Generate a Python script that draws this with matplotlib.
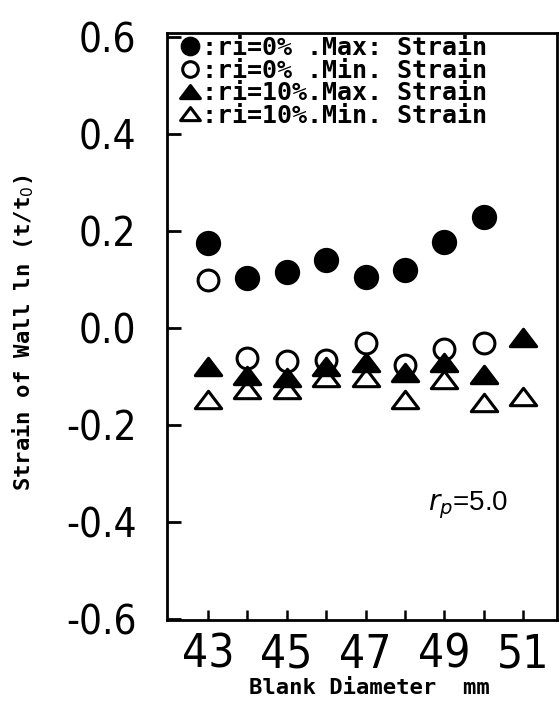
import matplotlib.pyplot as plt
from matplotlib.ticker import FixedLocator
from matplotlib.path import Path
from matplotlib import font_manager

# blank diameter (mm)
diam = [43, 44, 45, 46, 47, 48, 49, 50, 51]
diam_r0 = [43, 44, 45, 46, 47, 48, 49, 50]

# wall strain ln(t/t0)
r0_max = [0.175, 0.104, 0.116, 0.140, 0.106, 0.120, 0.177, 0.229]
r0_min = [0.099, -0.062, -0.069, -0.066, -0.031, -0.076, -0.044, -0.031]
r10_max = [-0.080, -0.100, -0.103, -0.080, -0.073, -0.093, -0.073, -0.097, -0.021]
r10_min = [-0.148, -0.128, -0.128, -0.103, -0.103, -0.148, -0.107, -0.155, -0.142]

labels = [":ri=0% .Max: Strain",
          ":ri=0% .Min. Strain",
          ":ri=10%.Max. Strain",
          ":ri=10%.Min. Strain"]

yticks = [-0.6, -0.4, -0.2, 0.0, 0.2, 0.4, 0.6]
ytick_labels = ["-0.6", "-0.4", "-0.2", "0.0", "0.2", "0.4", "0.6"]
xticks_major = [43, 45, 47, 49, 51]
xticks_minor = [44, 46, 48, 50]

# is there any condensed face around?
cond = [f for f in font_manager.fontManager.ttflist
        if f.stretch in ("condensed", "semi-condensed", "extra-condensed")
        or "Narrow" in f.name or "Condensed" in f.name]
if cond:
    narrow_kw = dict(family=[cond[0].name, "DejaVu Sans"], fontstretch=cond[0].stretch)
    ysize, xsize = 29, 33
else:
    narrow_kw = dict(family=["DejaVu Sans"])
    ysize, xsize = 23, 27

mono = ["DejaVu Sans Mono", "DejaVu Sans"]

# flat triangle like in the scan
tri = Path([(-1, -0.62), (1, -0.62), (0, 0.7), (-1, -0.62)], closed=True)

fig = plt.figure(figsize=(5.59, 7.02), dpi=100)
ax = fig.add_axes([0.2987, 0.1168, 0.6977, 0.8362])

ew = 2.2
h1, = ax.plot(diam_r0, r0_max, ls="none", marker="o", ms=16, mfc="black", mec="black", mew=ew)
h2, = ax.plot(diam_r0, r0_min, ls="none", marker="o", ms=15, mfc="white", mec="black", mew=ew)
h3, = ax.plot(diam, r10_max, ls="none", marker=tri, ms=19, mfc="black", mec="black", mew=ew)
h4, = ax.plot(diam, r10_min, ls="none", marker=tri, ms=19, mfc="white", mec="black", mew=ew)
# draw open markers under filled ones
h4.set_zorder(1.9)
h2.set_zorder(1.8)

ax.set_xlim(41.96, 51.86)
ax.set_ylim(-0.602, 0.608)

for s in ax.spines.values():
    s.set_linewidth(2.0)

ax.xaxis.set_major_locator(FixedLocator(xticks_major))
ax.xaxis.set_minor_locator(FixedLocator(xticks_minor))
ax.set_xticklabels([str(v) for v in xticks_major], fontsize=xsize, **narrow_kw)
ax.tick_params(axis="x", which="both", direction="in", length=7, width=1.8, pad=9)

ax.set_yticks(yticks)
ax.set_yticklabels(ytick_labels, fontsize=ysize, **narrow_kw)
ax.tick_params(axis="y", direction="in", length=10, width=2.0, pad=22)

ax.set_xlabel("Blank Diameter  mm", family=mono, fontweight="bold", fontsize=16)
ax.xaxis.set_label_coords(0.52, -0.098)
ax.set_ylabel(r"Strain of Wall ln (t/t$_0$)", family=mono, fontweight="bold", fontsize=16)
ax.yaxis.set_label_coords(-0.336, 0.49)

ax.text(0.67, 0.196, r"$r_p$=5.0", transform=ax.transAxes, fontsize=20, va="center",
        family=["Liberation Sans", "DejaVu Sans"])

leg = ax.legend([h1, h2, h3, h4], labels, loc="upper left",
                bbox_to_anchor=(0.03, 0.995), frameon=False,
                prop={"family": mono, "weight": "bold", "size": 18},
                handlelength=0.9, handletextpad=0.05, labelspacing=-0.05,
                borderpad=0, borderaxespad=0, markerscale=0.75)

fig.savefig("out.png", dpi=100)
